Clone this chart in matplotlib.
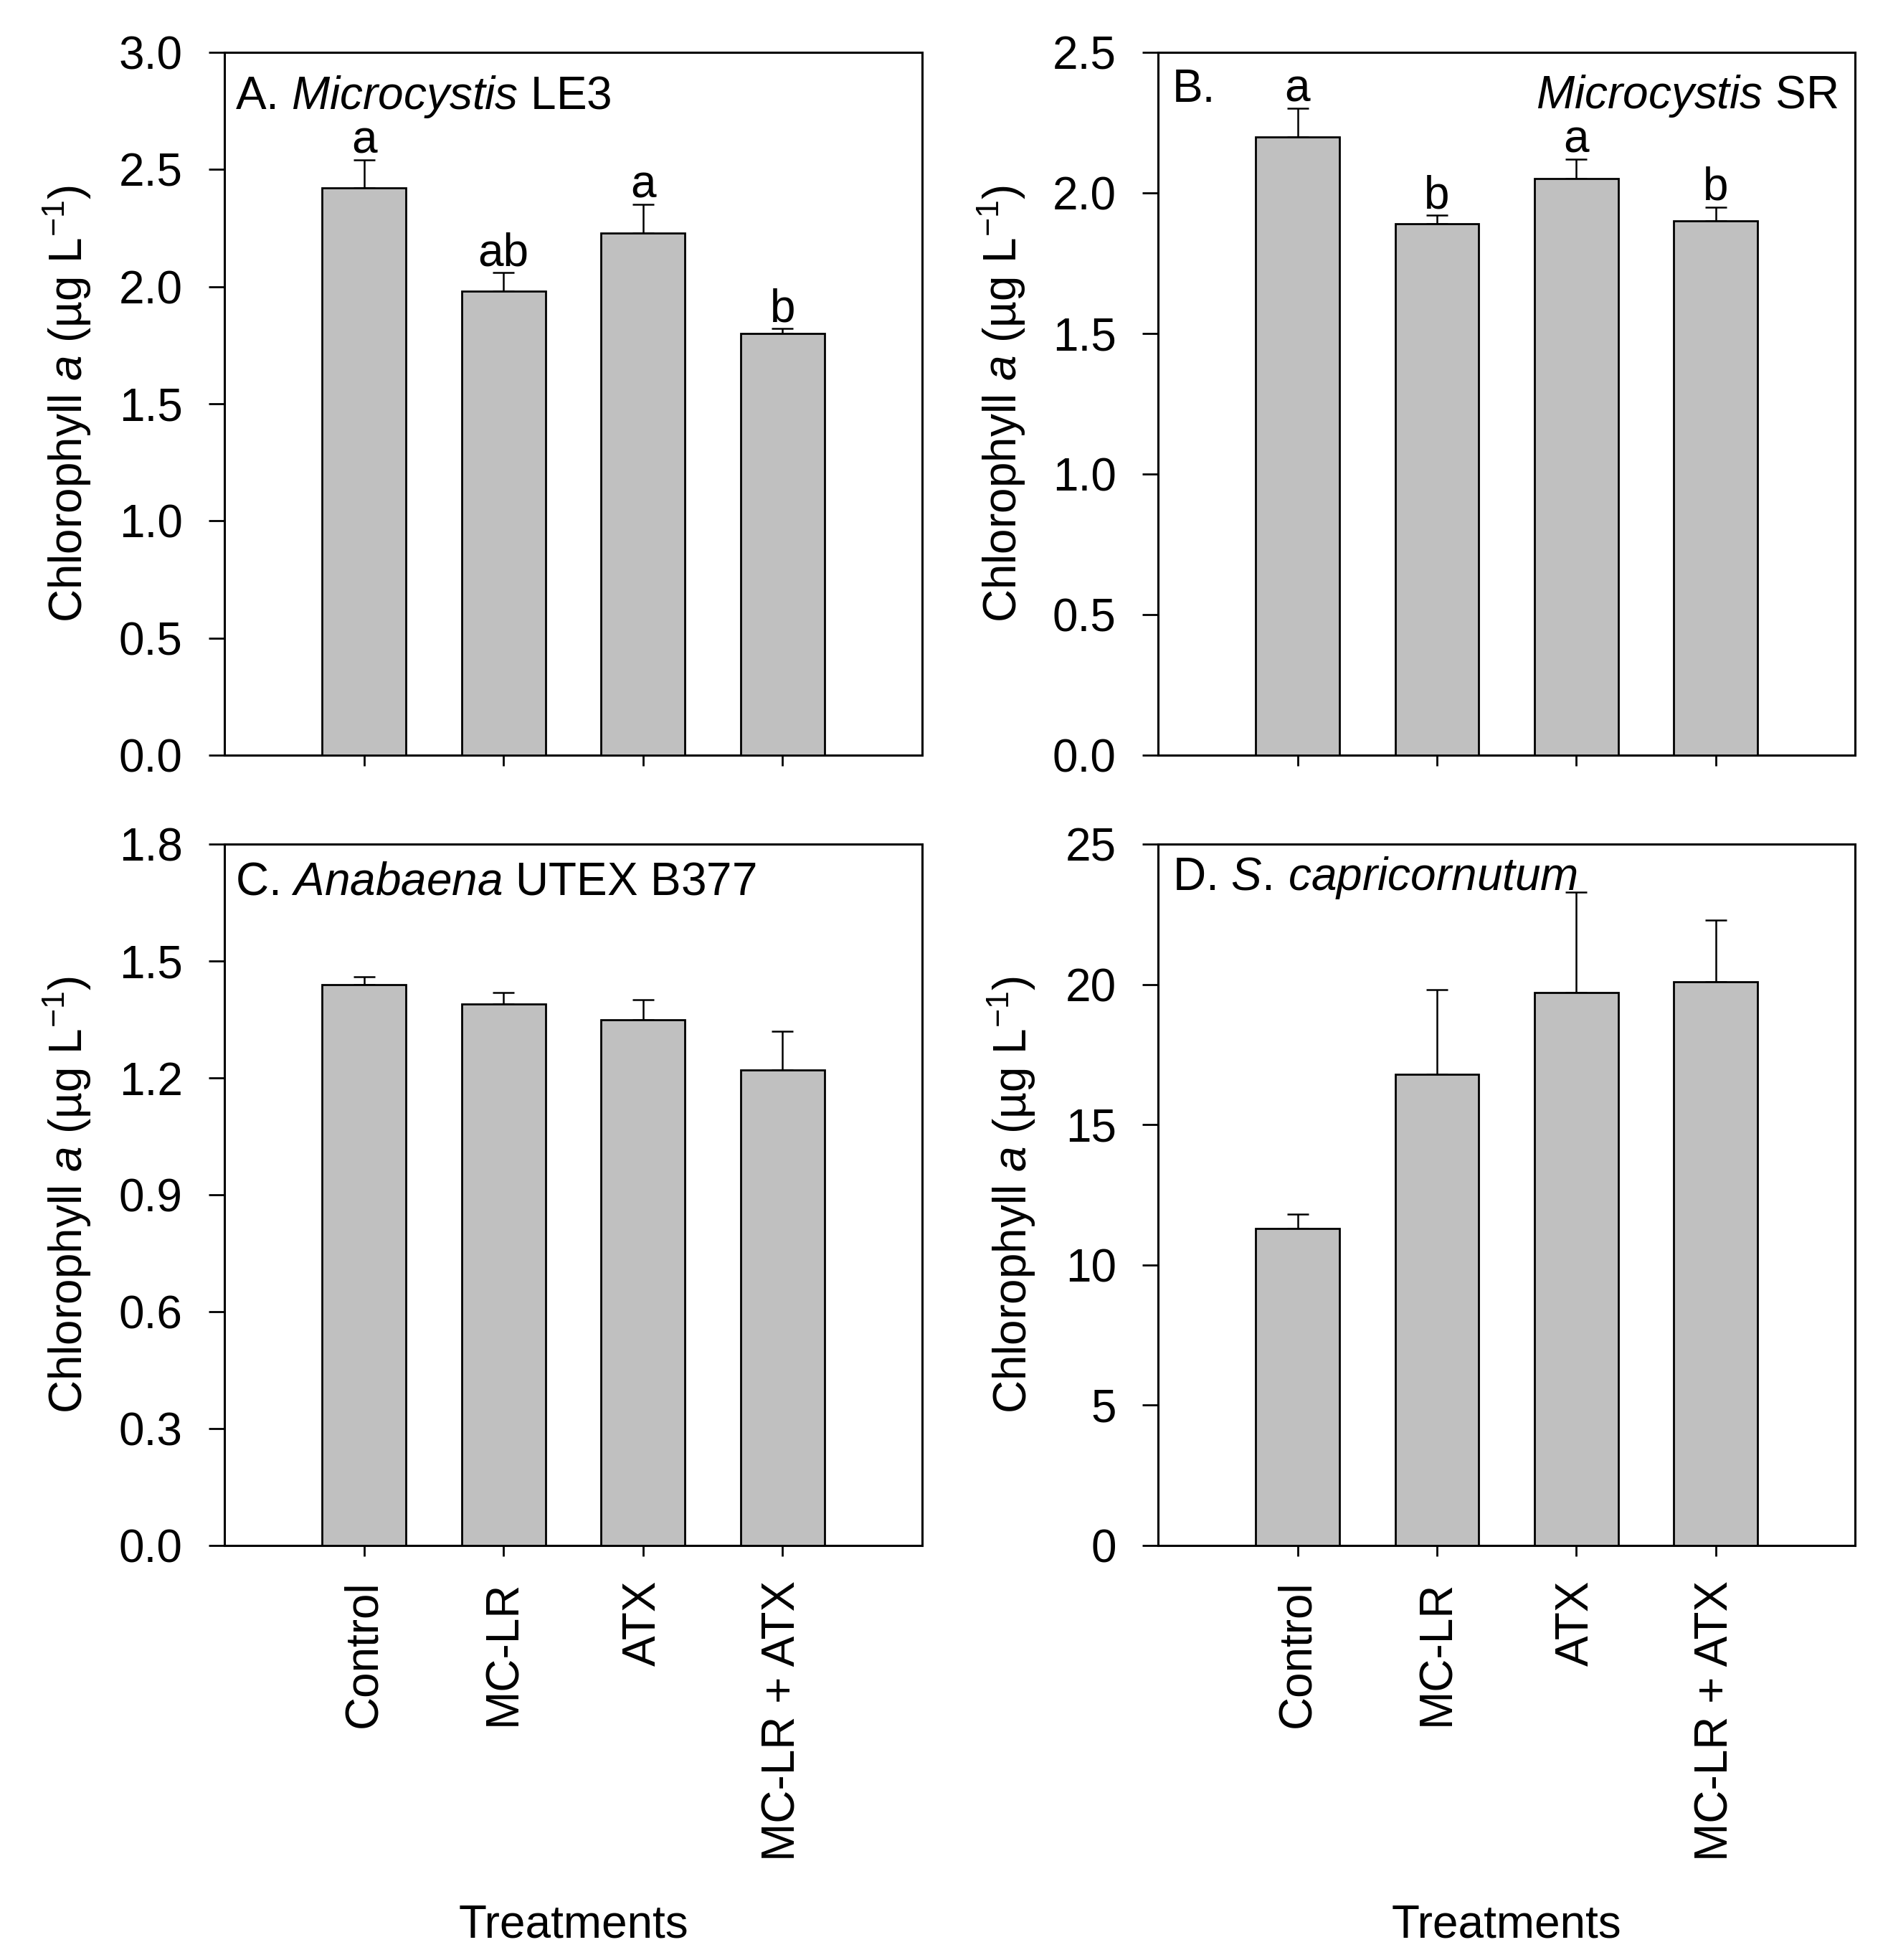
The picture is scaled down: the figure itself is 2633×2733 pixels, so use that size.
import numpy as np
import matplotlib
matplotlib.use("Agg")
import matplotlib.pyplot as plt

plt.rcParams['font.family'] = ['Liberation Sans', 'DejaVu Sans']
plt.rcParams['mathtext.fontset'] = 'custom'
plt.rcParams['mathtext.rm'] = 'Liberation Sans'
plt.rcParams['mathtext.it'] = 'Liberation Sans:italic'

treatments = ['Control', 'MC-LR', 'ATX', 'MC-LR + ATX']

# panel A - Microcystis LE3
a_mean = [2.42, 1.98, 2.23, 1.80]
a_err = [0.12, 0.08, 0.12, 0.02]
a_letters = ['a', 'ab', 'a', 'b']

# panel B - Microcystis SR
b_mean = [2.20, 1.89, 2.05, 1.90]
b_err = [0.10, 0.03, 0.07, 0.05]
b_letters = ['a', 'b', 'a', 'b']

# panel C - Anabaena UTEX B377
c_mean = [1.44, 1.39, 1.35, 1.22]
c_err = [0.02, 0.03, 0.05, 0.10]

# panel D - S. capricornutum
d_mean = [11.3, 16.8, 19.7, 20.1]
d_err = [0.5, 3.0, 3.6, 2.2]

fs = 46
ylab = r'Chlorophyll $\it{a}$ (µg L$^{\mathrm{-1}}$)'

fig = plt.figure(figsize=(26.33, 27.33), dpi=100)
axA = fig.add_axes([0.1189, 0.6147, 0.3695, 0.3586])
axB = fig.add_axes([0.6134, 0.6147, 0.3692, 0.3586])
axC = fig.add_axes([0.1189, 0.2115, 0.3695, 0.3578])
axD = fig.add_axes([0.6134, 0.2115, 0.3692, 0.3578])

x = np.arange(len(treatments))


def draw(ax, mean, err, ymax, step, fmt, letters=None):
    ax.bar(x, mean, width=0.6, color='#c0c0c0', edgecolor='black',
           linewidth=2.0, zorder=3)
    ax.errorbar(x, mean, yerr=[np.zeros(len(err)), err], fmt='none',
                ecolor='black', elinewidth=1.8, capsize=11, capthick=1.8,
                zorder=2)
    ax.set_xlim(-1, 4)
    ax.set_ylim(0, ymax)
    ticks = np.arange(0, ymax + step / 2, step)
    ax.set_yticks(ticks)
    ax.set_yticklabels([fmt % t for t in ticks])
    ax.set_xticks(x)
    ax.tick_params(axis='y', direction='out', length=16, width=2, pad=26,
                   labelsize=fs)
    ax.tick_params(axis='x', direction='out', length=11, width=2, pad=24,
                   labelsize=fs)
    for s in ax.spines.values():
        s.set_linewidth(2.2)
    ax.set_ylabel(ylab, fontsize=fs)
    if letters:
        for xi, m, e, l in zip(x, mean, err, letters):
            ax.annotate(l, (xi, m + e), xytext=(0, 7), textcoords='offset points',
                        ha='center', va='baseline', fontsize=fs)


draw(axA, a_mean, a_err, 3.0, 0.5, '%.1f', a_letters)
draw(axB, b_mean, b_err, 2.5, 0.5, '%.1f', b_letters)
draw(axC, c_mean, c_err, 1.8, 0.3, '%.1f')
draw(axD, d_mean, d_err, 25, 5, '%d')

for ax in (axA, axB):
    ax.set_xticklabels([])
for ax in (axC, axD):
    ax.set_xticklabels(treatments, rotation=90, va='top', ha='center')

axA.yaxis.set_label_coords(-0.188, 0.5)
axB.yaxis.set_label_coords(-0.187, 0.5)
axC.yaxis.set_label_coords(-0.188, 0.5)
axD.yaxis.set_label_coords(-0.173, 0.5)

axA.text(0.015, 0.919, r'A. $\it{Microcystis}$ LE3', transform=axA.transAxes,
         fontsize=fs, va='baseline')
axB.text(0.02, 0.93, 'B.', transform=axB.transAxes, fontsize=fs, va='baseline')
axB.text(0.975, 0.92, r'$\it{Microcystis}$ SR', transform=axB.transAxes,
         fontsize=fs, va='baseline', ha='right')
axC.text(0.015, 0.928, r'C. $\it{Anabaena}$ UTEX B377', transform=axC.transAxes,
         fontsize=fs, va='baseline')
axD.text(0.02, 0.935, r'D. $\it{S.}\,\it{capricornutum}$', transform=axD.transAxes,
         fontsize=fs, va='baseline')

for ax in (axC, axD):
    pos = ax.get_position()
    fig.text((pos.x0 + pos.x1) / 2, 0.0179, 'Treatments', fontsize=fs,
             ha='center', va='center')

fig.savefig('out.png', dpi=100)
